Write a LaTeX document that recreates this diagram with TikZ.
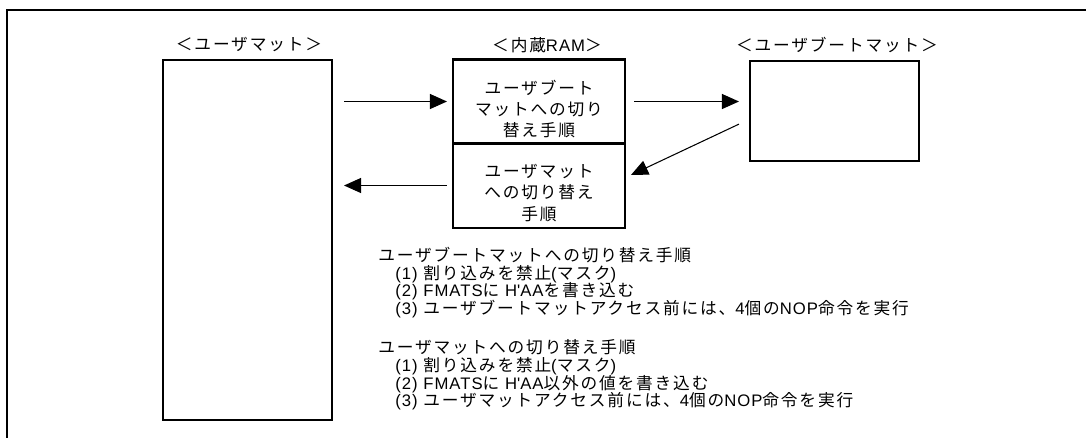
\documentclass[tikz,border=0pt]{standalone}
\usepackage{fontspec}
\setmainfont{Liberation Sans}
\newfontfamily\lat[LetterSpace=6]{Liberation Sans}
\newfontfamily\jp[LetterSpace=11]{Noto Sans CJK JP}
\usetikzlibrary{arrows.meta,positioning}

\begin{document}
\begin{tikzpicture}[
  x=0.02cm, y=-0.02cm,
  font=\jp\fontsize{9.5}{12}\selectfont,
  frame/.style={line width=1.4pt},
  mat/.style={draw, line width=1.2pt, inner sep=0pt},
  title/.style={inner sep=0pt},
  boxtxt/.style={align=center, inner sep=0pt},
  stepline/.style={anchor=base west, inner sep=0pt},
  arrow/.style={-{Triangle[length=0.34cm, width=0.30cm]}, line width=0.6pt}
]
\useasboundingbox (0,0) rectangle (1086,437);
\draw[frame] (7,440) -- (7,10) -- (1090,10);

% the three memory areas
\node[mat, minimum width=3.38cm, minimum height=7.2cm] (user) at (247.5,240) {};
\node[mat, minimum width=3.44cm, minimum height=1.68cm] (ramtop) at (539,101.5) {};
\node[mat, minimum width=3.44cm, minimum height=1.70cm] (rambot) at (539,185.5) {};
\node[mat, minimum width=3.38cm, minimum height=2.0cm] (boot) at (834.5,111) {};

\node[title] (usertitle) at (249,45) {＜ユーザマット＞};
\node[title] (ramtitle) at (547,45) {＜内蔵{\lat RAM}＞};
\node[title] (boottitle) at (837,45) {＜ユーザブートマット＞};

\node[boxtxt] (ramtoptxt) at (539,109) {ユーザブート\\マットへの切り\\替え手順};
\node[boxtxt] (rambottxt) at (539,193) {ユーザマット\\への切り替え\\手順};

% transfers
\draw[arrow, shorten <=0.22cm, shorten >=0.10cm] (user.east |- ramtop.west) -- (ramtop.west);
\draw[arrow, shorten <=0.16cm, shorten >=0.20cm] (ramtop.east) -- (ramtop.east -| boot.west);
\draw[arrow, shorten <=0.22cm, shorten >=0.11cm] ([yshift=-0.168cm]boot.west) -- ([yshift=0.164cm]rambot.east);
\draw[arrow, shorten <=0.10cm, shorten >=0.22cm] (rambot.west) -- (rambot.west -| user.east);

% procedures
\foreach \y/\x/\txt/\nm in {
  261/378/{ユーザブートマットへの切り替え手順}/b0,
  279/395/{{\lat (1) }割り込みを禁止{\lat (}マスク{\lat )}}/b1,
  296/395/{{\lat (2) FMATS}に{\lat\ H\textquotesingle AA}を書き込む}/b2,
  314/395/{{\lat (3) }ユーザブートマットアクセス前には、{\lat 4}個の{\lat NOP}命令を実行}/b3,
  353/378/{ユーザマットへの切り替え手順}/u0,
  371/395/{{\lat (1) }割り込みを禁止{\lat (}マスク{\lat )}}/u1,
  389/395/{{\lat (2) FMATS}に{\lat\ H\textquotesingle AA}以外の値を書き込む}/u2,
  406/395/{{\lat (3) }ユーザマットアクセス前には、{\lat 4}個の{\lat NOP}命令を実行}/u3
}{
  \node[stepline] (\nm) at (\x,\y) {\txt};
}
\end{tikzpicture}
\end{document}
